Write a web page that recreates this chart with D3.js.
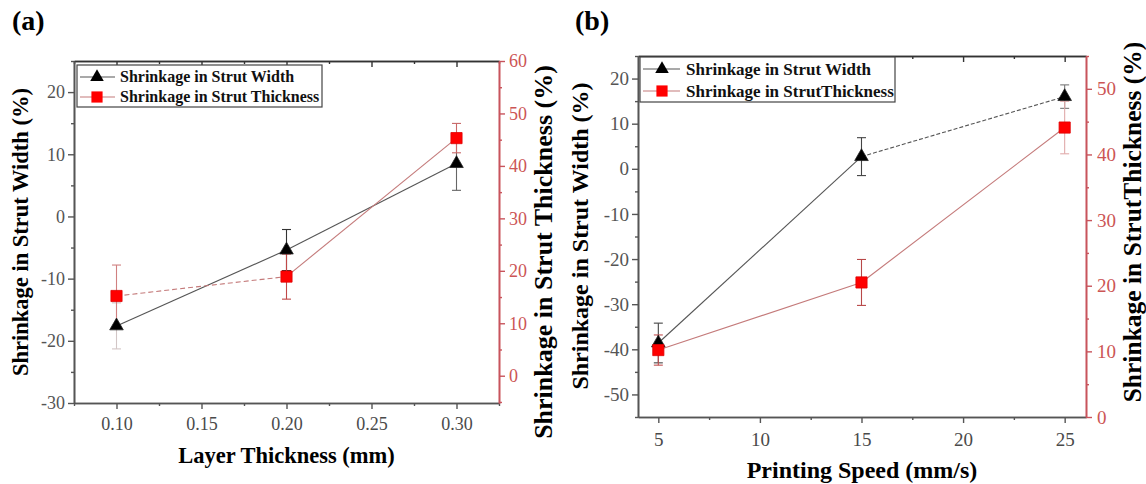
<!DOCTYPE html>
<html>
<head>
<meta charset="utf-8">
<title>shrinkage</title>
<script src="https://cdn.jsdelivr.net/npm/d3@7"></script>
<style>
body { margin: 0; background: #fff; }
svg text { font-family: "Liberation Serif", "Times New Roman", Times, Tinos, "DejaVu Serif", serif; }
</style>
</head>
<body>
<div class="chart"></div>
<script>
// (a) layer thickness
var layerThickness = [0.10, 0.20, 0.30];
var widthA = [-17.6, -5.4, 8.5];
var widthAErr = [3.7, 3.3, 4.3];
var thickA = [15.2, 18.9, 45.3];
var thickAErr = [5.9, 4.3, 2.8];

// (b) printing speed
var printSpeed = [5, 15, 25];
var widthB = [-38.6, 2.7, 16.0];
var widthBErr = [4.4, 4.2, 2.6];
var thickB = [10.2, 20.5, 44.1];
var thickBErr = [2.3, 3.5, 4.0];

var xTicksA = [0.10, 0.15, 0.20, 0.25, 0.30];
var yLeftTicksA = [-30, -20, -10, 0, 10, 20];
var yRightTicksA = [0, 10, 20, 30, 40, 50, 60];
var xTicksB = [5, 10, 15, 20, 25];
var yLeftTicksB = [-50, -40, -30, -20, -10, 0, 10, 20];
var yRightTicksB = [0, 10, 20, 30, 40, 50];

var legendA = ["Shrinkage in Strut Width", "Shrinkage in Strut Thickness"];
var legendB = ["Shrinkage in Strut Width", "Shrinkage in StrutThickness"];

var serif = '"Liberation Serif", "Times New Roman", Times, Tinos, "DejaVu Serif", serif';

var svg = d3.select('.chart').append('svg')
    .attr('width', 1146)
    .attr('height', 484)
    .style('font-family', serif);

var axisGray = '#555';
var redAxis = '#c8545c';
var redText = '#cc5555';

function minorTicks(domain, step, major) {
    var k0 = Math.ceil(domain[0] / step - 1e-9), k1 = Math.floor(domain[1] / step + 1e-9);
    return d3.range(k0, k1 + 1).map(function(k) { return +(k * step).toFixed(4); })
        .filter(function(v) { return !major.some(function(m) { return Math.abs(m - v) < 1e-6; }); });
}

function styleAxis(g, color, textColor, fs) {
    g.attr('font-family', null);
    g.select('.domain').attr('stroke', color).attr('stroke-width', 1.6);
    g.selectAll('.tick line').attr('stroke', color).attr('stroke-width', 1.4);
    g.selectAll('.tick text').attr('fill', textColor).attr('font-size', fs).style('font-family', serif);
}

function panel(c) {
    var x = d3.scaleLinear().domain(c.xDomain).range([c.left, c.right]);
    var yL = d3.scaleLinear().domain(c.yLDomain).range([c.bottom, c.top]);
    var yR = d3.scaleLinear().domain(c.yRDomain).range([c.bottom, c.top]);
    var g = svg.append('g');

    var xMinor = minorTicks(c.xDomain, c.xMinorStep, c.xTicks);
    var yLMinor = minorTicks(c.yLDomain, 5, c.yLTicks);
    var yRMinor = minorTicks(c.yRDomain, 5, c.yRTicks);

    // bottom
    var gb = g.append('g').attr('transform', 'translate(0,' + c.bottom + ')')
        .call(d3.axisBottom(x).tickValues(c.xTicks).tickFormat(c.xFormat).tickSize(6).tickSizeOuter(0).tickPadding(c.xPad));
    styleAxis(gb, axisGray, '#4a4a4a', c.tickFs);
    var gbm = g.append('g').attr('transform', 'translate(0,' + c.bottom + ')')
        .call(d3.axisBottom(x).tickValues(xMinor).tickFormat('').tickSize(3).tickSizeOuter(0));
    styleAxis(gbm, axisGray, '#4a4a4a', c.tickFs);

    // top (inward ticks)
    var gt = g.append('g').attr('transform', 'translate(0,' + c.top + ')')
        .call(d3.axisBottom(x).tickValues(c.xTicks).tickFormat('').tickSize(6).tickSizeOuter(0));
    styleAxis(gt, '#333', '#333', c.tickFs);
    var gtm = g.append('g').attr('transform', 'translate(0,' + c.top + ')')
        .call(d3.axisBottom(x).tickValues(xMinor).tickFormat('').tickSize(3).tickSizeOuter(0));
    styleAxis(gtm, '#333', '#333', c.tickFs);

    // left
    var gl = g.append('g').attr('transform', 'translate(' + c.left + ',0)')
        .call(d3.axisLeft(yL).tickValues(c.yLTicks).tickFormat(function(d) { return String(d); }).tickSize(6).tickSizeOuter(0).tickPadding(3));
    styleAxis(gl, axisGray, '#555', c.tickFs);
    var glm = g.append('g').attr('transform', 'translate(' + c.left + ',0)')
        .call(d3.axisLeft(yL).tickValues(yLMinor).tickFormat('').tickSize(3).tickSizeOuter(0));
    styleAxis(glm, axisGray, '#555', c.tickFs);

    // right (red)
    var gr = g.append('g').attr('transform', 'translate(' + c.right + ',0)')
        .call(d3.axisRight(yR).tickValues(c.yRTicks).tickFormat(function(d) { return String(d); }).tickSize(6).tickSizeOuter(0).tickPadding(c.rPad));
    styleAxis(gr, redAxis, redText, c.tickFs);
    var grm = g.append('g').attr('transform', 'translate(' + c.right + ',0)')
        .call(d3.axisRight(yR).tickValues(yRMinor).tickFormat('').tickSize(3).tickSizeOuter(0));
    styleAxis(grm, redAxis, redText, c.tickFs);

    // series
    var series = [
        {vals: c.width, err: c.widthErr, y: yL, line: '#555', errColor: c.widthErrColor, dash: c.widthDash, sym: 'tri'},
        {vals: c.thick, err: c.thickErr, y: yR, line: '#c47a7a', errColor: c.thickErrColor, dash: c.thickDash, sym: 'sq'}
    ];

    series.forEach(function(s) {
        // connecting segments
        g.selectAll(null).data(d3.range(c.xs.length - 1)).enter().append('line')
            .attr('x1', function(i) { return x(c.xs[i]); })
            .attr('y1', function(i) { return s.y(s.vals[i]); })
            .attr('x2', function(i) { return x(c.xs[i + 1]); })
            .attr('y2', function(i) { return s.y(s.vals[i + 1]); })
            .attr('stroke', s.line)
            .attr('stroke-width', 1.1)
            .attr('stroke-dasharray', function(i) { return s.dash[i]; });
    });

    series.forEach(function(s) {
        // error bars
        var eb = g.selectAll(null).data(c.xs).enter().append('g')
            .attr('stroke', function(d, i) { return s.errColor[i]; })
            .attr('stroke-width', 1.1);
        eb.append('line')
            .attr('x1', function(d) { return x(d); }).attr('x2', function(d) { return x(d); })
            .attr('y1', function(d, i) { return s.y(s.vals[i] - s.err[i]); })
            .attr('y2', function(d, i) { return s.y(s.vals[i] + s.err[i]); });
        [-1, 1].forEach(function(sg) {
            eb.append('line')
                .attr('x1', function(d) { return x(d) - 4.5; }).attr('x2', function(d) { return x(d) + 4.5; })
                .attr('y1', function(d, i) { return s.y(s.vals[i] + sg * s.err[i]); })
                .attr('y2', function(d, i) { return s.y(s.vals[i] + sg * s.err[i]); });
        });
    });

    series.forEach(function(s) {
        var sym = s.sym === 'tri'
            ? d3.symbol().type(d3.symbolTriangle).size(80)
            : d3.symbol().type(d3.symbolSquare).size(125);
        g.selectAll(null).data(c.xs).enter().append('path')
            .attr('d', sym)
            .attr('transform', function(d, i) { return 'translate(' + x(d) + ',' + s.y(s.vals[i]) + ')'; })
            .attr('fill', s.sym === 'tri' ? '#000' : '#ff0000')
            .attr('stroke', s.sym === 'tri' ? '#222' : '#e00000')
            .attr('stroke-width', 0.8);
    });

    // legend
    var L = c.legend;
    g.append('rect')
        .attr('x', L.x).attr('y', L.y).attr('width', L.w).attr('height', L.h)
        .attr('fill', '#fff').attr('stroke', '#444').attr('stroke-width', 1.2);
    series.forEach(function(s, i) {
        var ly = L.y + L.rows[i];
        g.append('line')
            .attr('x1', L.x + 3).attr('x2', L.x + L.lineW)
            .attr('y1', ly).attr('y2', ly)
            .attr('stroke', s.line).attr('stroke-width', 1.1);
        var sym = s.sym === 'tri'
            ? d3.symbol().type(d3.symbolTriangle).size(80)
            : d3.symbol().type(d3.symbolSquare).size(125);
        g.append('path').attr('d', sym)
            .attr('transform', 'translate(' + (L.x + L.mark) + ',' + ly + ')')
            .attr('fill', s.sym === 'tri' ? '#000' : '#ff0000');
        g.append('text')
            .attr('x', L.x + L.textX).attr('y', ly + L.fs * 0.33)
            .attr('font-size', L.fs).attr('font-weight', 'bold').attr('fill', '#111')
            .text(c.legendText[i]);
    });

    // titles
    svg.append('text').attr('x', c.tagX).attr('y', 30)
        .attr('font-size', 28).attr('font-weight', 'bold').text(c.tag);
    svg.append('text')
        .attr('x', (c.left + c.right) / 2 + c.xTitleDx).attr('y', c.xTitleY)
        .attr('text-anchor', 'middle').attr('font-size', c.titleFs).attr('font-weight', 'bold')
        .text(c.xTitle);
    svg.append('text')
        .attr('transform', 'translate(' + c.yLTitleX + ',' + c.yLTitleY + ') rotate(-90)')
        .attr('text-anchor', 'middle').attr('font-size', c.titleFs).attr('font-weight', 'bold')
        .text(c.yLTitle);
    svg.append('text')
        .attr('transform', 'translate(' + c.yRTitleX + ',' + c.yRTitleY + ') rotate(-90)')
        .attr('text-anchor', 'middle').attr('font-size', c.rTitleFs).attr('font-weight', 'bold')
        .text(c.yRTitle);
}

panel({
    left: 74, right: 499, top: 61, bottom: 403,
    xDomain: [0.075, 0.325], yLDomain: [-30, 25], yRDomain: [-5.2, 60],
    xTicks: xTicksA, yLTicks: yLeftTicksA, yRTicks: yRightTicksA,
    xMinorStep: 0.025, xFormat: d3.format('.2f'),
    xs: layerThickness, width: widthA, widthErr: widthAErr, thick: thickA, thickErr: thickAErr,
    widthDash: ['none', 'none'], thickDash: ['5,3', 'none'],
    widthErrColor: ['#d2c6c6', '#333', '#666'], thickErrColor: ['#d08080', '#c04848', '#c86868'],
    tickFs: 18, xPad: 8, rPad: 4,
    legend: {x: 77, y: 65, w: 245, h: 42, rows: [12, 32], lineW: 38, mark: 20, textX: 43, fs: 16},
    legendText: legendA,
    tag: '(a)', tagX: 12,
    titleFs: 22.5, rTitleFs: 26,
    xTitle: 'Layer Thickness (mm)', xTitleY: 463, xTitleDx: 0,
    yLTitle: 'Shrinkage in Strut Width (%)', yLTitleX: 28, yLTitleY: 232,
    yRTitle: 'Shrinkage in Strut Thickness (%)', yRTitleX: 552, yRTitleY: 252
});

panel({
    left: 638, right: 1086, top: 56, bottom: 417,
    xDomain: [4, 26.05], yLDomain: [-55, 25], yRDomain: [0, 55],
    xTicks: xTicksB, yLTicks: yLeftTicksB, yRTicks: yRightTicksB,
    xMinorStep: 2.5, xFormat: d3.format('d'),
    xs: printSpeed, width: widthB, widthErr: widthBErr, thick: thickB, thickErr: thickBErr,
    widthDash: ['none', '4,2'], thickDash: ['none', 'none'],
    widthErrColor: ['#444', '#444', '#777'], thickErrColor: ['#c05050', '#b84848', '#e0aaaa'],
    tickFs: 19, xPad: 10, rPad: 5,
    legend: {x: 640, y: 57, w: 255, h: 45, rows: [12, 34], lineW: 40, mark: 22, textX: 46, fs: 17},
    legendText: legendB,
    tag: '(b)', tagX: 575,
    titleFs: 24, rTitleFs: 25.5,
    xTitle: 'Printing Speed (mm/s)', xTitleY: 478, xTitleDx: 0,
    yLTitle: 'Shrinkage in Strut Width (%)', yLTitleX: 588, yLTitleY: 236,
    yRTitle: 'Shrinkage in StrutThickness (%)', yRTitleX: 1141, yRTitleY: 222
});
</script>
</body>
</html>
